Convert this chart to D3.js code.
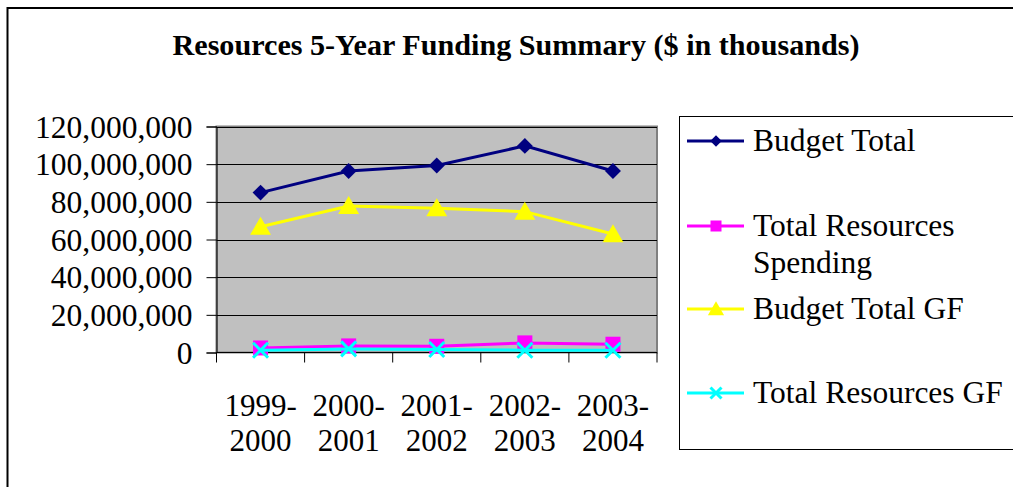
<!DOCTYPE html>
<html><head><meta charset="utf-8">
<script src="https://cdn.jsdelivr.net/npm/d3@7"></script>
<style>body{margin:0;background:#fff}svg{display:block}text{font-family:"Liberation Serif","Times New Roman",serif;fill:#000}</style>
</head><body><svg id="c" width="1013" height="487"></svg>
<script>
const categories = [["1999-","2000"],["2000-","2001"],["2001-","2002"],["2002-","2003"],["2003-","2004"]];
const budgetTotal = [84900000, 96400000, 99300000, 109700000, 96400000];
const totalResourcesSpending = [2400000, 3500000, 3300000, 5100000, 4400000];
const budgetTotalGF = [66800000, 77800000, 76600000, 74800000, 62900000];
const totalResourcesGF = [1200000, 1900000, 1600000, 1200000, 1200000];
const yTicks = [0, 20000000, 40000000, 60000000, 80000000, 100000000, 120000000];
const seriesNames = ["Budget Total", "Total Resources Spending", "Budget Total GF", "Total Resources GF"];
const title = "Resources 5-Year Funding Summary ($ in thousands)";

const svg = d3.select("#c");
const W = 1013, H = 487;
const P = {l: 216.5, r: 657, t: 126.5, b: 352.5};

svg.append("rect").attr("x", 7.5).attr("y", 8).attr("width", W + 20).attr("height", H + 20)
  .attr("fill", "#fff").attr("stroke", "#000").attr("stroke-width", 2);

svg.append("text").attr("x", 516).attr("y", 55).attr("text-anchor", "middle")
  .attr("font-size", 30).attr("font-weight", "bold").attr("textLength", 687).attr("lengthAdjust", "spacingAndGlyphs").text(title);

const x = d3.scaleBand().domain(categories.map((d, i) => i)).range([P.l, P.r]);
const y = d3.scaleLinear().domain([0, 120000000]).range([P.b, P.t]);
const cx = i => x(i) + x.bandwidth() / 2;

svg.append("rect").attr("x", P.l).attr("y", P.t).attr("width", P.r - P.l).attr("height", P.b - P.t)
  .attr("fill", "#C0C0C0").attr("stroke", "#808080").attr("stroke-width", 2);

svg.append("g").selectAll("line").data(yTicks.filter(d => d > 0)).join("line")
  .attr("x1", P.l).attr("x2", P.r).attr("y1", d => Math.round(y(d)) + 0.5).attr("y2", d => Math.round(y(d)) + 0.5)
  .attr("stroke", "#000").attr("stroke-width", 1);

const yAxis = d3.axisLeft(y).tickValues(yTicks).tickSize(10).tickPadding(14).tickFormat(d3.format(","));
const gy = svg.append("g").attr("transform", `translate(${P.l},0)`).call(yAxis);
gy.select(".domain").attr("stroke", "#000");
gy.selectAll(".tick line").attr("stroke", "#000");
gy.selectAll(".tick text").attr("font-size", 31.5).attr("font-family", "Liberation Serif").attr("fill", "#000").attr("dy", "0.34em").attr("x", -24);

const gx = svg.append("g").attr("transform", `translate(0,${P.b})`);
gx.append("line").attr("x1", P.l).attr("x2", P.r).attr("y1", 0).attr("y2", 0).attr("stroke", "#000");
const bounds = categories.map((d, i) => x(i)).concat([P.r]);
gx.selectAll("line.t").data(bounds).join("line").attr("class", "t")
  .attr("x1", d => d).attr("x2", d => d).attr("y1", 0).attr("y2", 10).attr("stroke", "#000");
const xl = gx.selectAll("text").data(categories).join("text")
  .attr("text-anchor", "middle").attr("font-size", 31);
xl.each(function(d, i) {
  const t = d3.select(this);
  d.forEach((s, k) => t.append("tspan").attr("x", cx(i)).attr("y", 63 + k * 35).text(s));
});

const colors = ["#000080", "#FF00FF", "#FFFF00", "#00FFFF"];
const data = [budgetTotal, totalResourcesSpending, budgetTotalGF, totalResourcesGF];
const line = d3.line().x((d, i) => cx(i)).y(d => y(d));

function marker(g, k, px, py, s) {
  if (k === 0) g.append("path").attr("d", d3.symbol(d3.symbolDiamond2, s * s * 0.5)()).attr("transform", `translate(${px},${py})`).attr("fill", colors[0]);
  if (k === 1) g.append("rect").attr("x", px - s / 2).attr("y", py - s / 2).attr("width", s).attr("height", s).attr("fill", colors[1]);
  if (k === 2) g.append("path").attr("d", `M${px},${py - s * 0.55}L${px + s * 0.58},${py + s * 0.45}L${px - s * 0.58},${py + s * 0.45}Z`).attr("fill", colors[2]);
  if (k === 3) g.append("path").attr("d", `M${px - s / 2},${py - s / 2}L${px + s / 2},${py + s / 2}M${px + s / 2},${py - s / 2}L${px - s / 2},${py + s / 2}`).attr("stroke", colors[3]).attr("stroke-width", 3).attr("fill", "none");
}

const order = [0, 2, 1, 3];
order.forEach(k => {
  const g = svg.append("g");
  g.append("path").datum(data[k]).attr("d", line).attr("fill", "none").attr("stroke", colors[k]).attr("stroke-width", 3);
  data[k].forEach((v, i) => marker(g, k, cx(i), y(v), k === 2 ? 18 : k === 0 ? 18 : 15));
});

svg.append("rect").attr("x", 679.5).attr("y", 116.5).attr("width", 400).attr("height", 333)
  .attr("fill", "#fff").attr("stroke", "#000").attr("stroke-width", 1);
const legY = [141, 226, 309, 393];
const legLines = [["Budget Total"], ["Total Resources", "Spending"], ["Budget Total GF"], ["Total Resources GF"]];
legY.forEach((ly, k) => {
  const g = svg.append("g");
  g.append("line").attr("x1", 687).attr("x2", 744).attr("y1", ly).attr("y2", ly).attr("stroke", colors[k]).attr("stroke-width", 3);
  marker(g, k, 716, ly, k === 2 ? 14 : k === 0 ? 13 : 11);
  const t = g.append("text").attr("font-size", 31.5);
  legLines[k].forEach((s, j) => t.append("tspan").attr("x", 753).attr("y", ly + 10 + j * 37).text(s));
});
</script></body></html>
